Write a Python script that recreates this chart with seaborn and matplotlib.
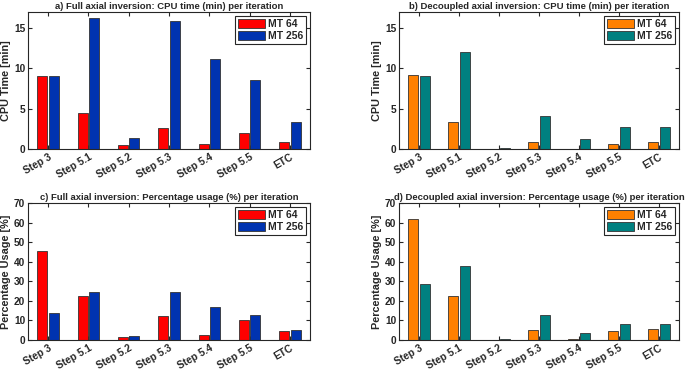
import matplotlib
matplotlib.use('Agg')
import matplotlib.pyplot as plt
import pandas as pd
import seaborn as sns

sns.set_style('ticks')
plt.rcParams['font.family'] = ['Liberation Sans', 'DejaVu Sans']
plt.rcParams['font.weight'] = 'bold'

# data
steps = ['Step 3', 'Step 5.1', 'Step 5.2', 'Step 5.3', 'Step 5.4', 'Step 5.5', 'ETC']
series = ['MT 64', 'MT 256']

full_cpu_64 = [9.02, 4.41, 0.45, 2.55, 0.66, 2.02, 0.87]
full_cpu_256 = [9.02, 16.2, 1.40, 15.9, 11.2, 8.53, 3.30]
dec_cpu_64 = [9.23, 3.34, 0.02, 0.82, 0.05, 0.66, 0.87]
dec_cpu_256 = [9.02, 12.07, 0.16, 4.12, 1.24, 2.76, 2.76]

full_pct_64 = [45.6, 22.3, 1.7, 12.4, 2.7, 10.0, 4.4]
full_pct_256 = [14.0, 24.7, 1.9, 24.4, 17.0, 12.9, 4.9]
dec_pct_64 = [61.8, 22.5, 0.1, 5.3, 0.3, 4.4, 5.6]
dec_pct_256 = [28.4, 37.6, 0.4, 12.8, 3.6, 8.3, 8.3]

pal_full = {'MT 64': '#ff0000', 'MT 256': '#0033b0'}
pal_dec = {'MT 64': '#ff8000', 'MT 256': '#008080'}


def long_df(a, b):
    return pd.DataFrame({
        'step': steps * 2,
        'value': a + b,
        'series': [series[0]] * len(steps) + [series[1]] * len(steps),
    })


W, H = 685, 371
fig = plt.figure(figsize=(W / 100, H / 100), dpi=100)


def panel(rect, df, pal, title, ylabel, ymax, yticks):
    l, t, r, b = rect
    ax = fig.add_axes([l / W, 1 - b / H, (r - l) / W, (b - t) / H])
    sns.barplot(data=df, x='step', y='value', hue='series', palette=pal,
                width=0.57, gap=0.13, edgecolor='#333333', linewidth=0.6,
                saturation=1, errorbar=None, ax=ax)
    ax.set_xlim(-0.5, 6.5)
    ax.set_ylim(0, ymax)
    ax.set_yticks(yticks)
    ax.set_title(title, fontsize=6.8, fontweight='bold', pad=2)
    ax.set_ylabel(ylabel, fontsize=7.8, fontweight='bold', labelpad=2)
    ax.set_xlabel('')
    ax.tick_params(direction='in', top=True, right=True, length=3,
                   width=0.8, labelsize=7.3, pad=2, color='#262626')
    for lab in ax.get_xticklabels():
        lab.set_rotation(30)
        lab.set_ha('right')
        lab.set_rotation_mode('anchor')
        lab.set_fontweight('bold')
    for lab in ax.get_yticklabels():
        lab.set_fontweight('bold')
    for s in ax.spines.values():
        s.set_visible(True)
        s.set_linewidth(0.8)
        s.set_color('#262626')
    ax.legend(title=None, loc='upper right', frameon=True,
              fancybox=False, edgecolor='#262626', framealpha=1,
              handlelength=2.6, handleheight=1.0, borderaxespad=0.4,
              labelspacing=0.2, handletextpad=0.3, borderpad=0.25,
              prop={'weight': 'bold', 'size': 7.5})
    ax.get_legend().get_frame().set_linewidth(0.8)
    return ax


panel((28, 12, 310, 149), long_df(full_cpu_64, full_cpu_256), pal_full,
      'a) Full axial inversion: CPU time (min) per iteration',
      'CPU Time [min]', 17, [0, 5, 10, 15])
panel((399, 12, 679, 149), long_df(dec_cpu_64, dec_cpu_256), pal_dec,
      'b) Decoupled axial inversion: CPU time (min) per iteration',
      'CPU Time [min]', 17, [0, 5, 10, 15])
panel((28, 203, 310, 340), long_df(full_pct_64, full_pct_256), pal_full,
      'c) Full axial inversion: Percentage usage (%) per iteration',
      'Percentage Usage [%]', 70, list(range(0, 71, 10)))
panel((399, 203, 679, 340), long_df(dec_pct_64, dec_pct_256), pal_dec,
      'd) Decoupled axial inversion: Percentage usage (%) per iteration',
      'Percentage Usage [%]', 70, list(range(0, 71, 10)))

fig.savefig('out.png', dpi=100)
